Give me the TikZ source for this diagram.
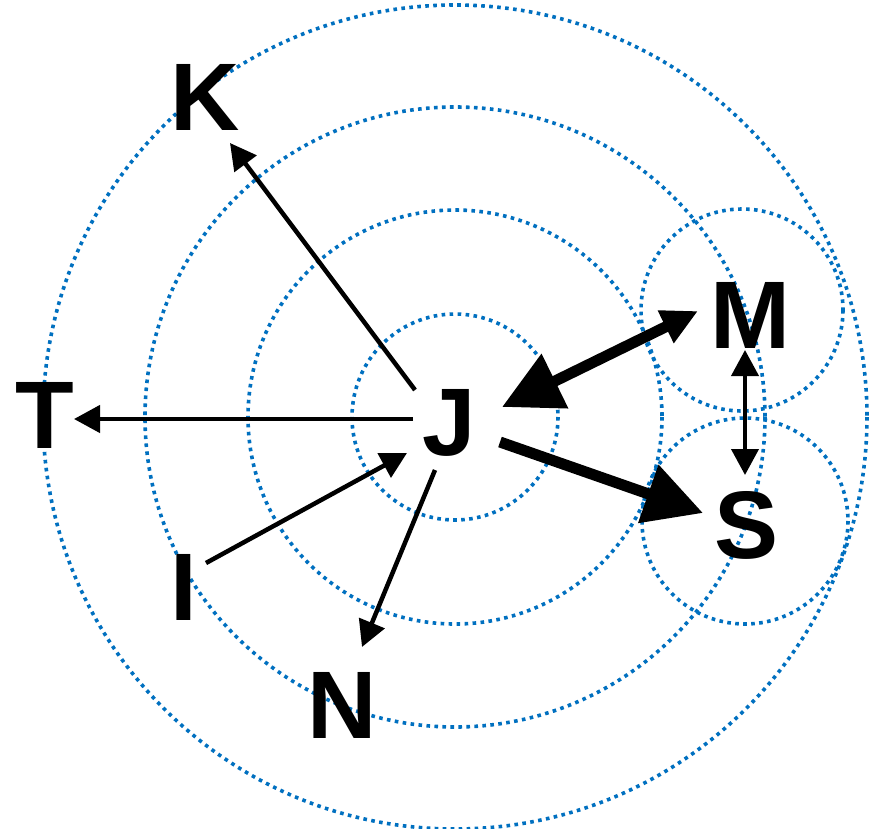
\documentclass[tikz,border=0pt]{standalone}
\usepackage{fontspec}
\setmainfont{Liberation Sans}
\usetikzlibrary{arrows.meta}
\definecolor{dotblue}{RGB}{0,112,192}
\tikzset{
  ring/.style={draw=dotblue, line width=3.6pt, dash pattern=on 3.6pt off 4.4pt},
  letter/.style={font=\fontsize{96}{96}\selectfont\bfseries, inner sep=0pt, anchor=base},
  thinarrow/.style={line width=4.5pt, -{Triangle[length=26pt,width=27pt]}},
  boldarrow/.style={line width=11pt},
}
\begin{document}
\begin{tikzpicture}[x=1pt,y=-1pt]
\useasboundingbox (0,0) rectangle (870,828);
\fill[white] (0,0) rectangle (870,828);
% concentric rings
\coordinate (c0) at (455,417);
\foreach \r in {103,207,310,412} \draw[ring] (c0) circle[radius=\r];
% letters
\node[letter] (K) at (205,130) {K};
\node[letter] (T) at (45,448) {T};
\node[letter] (J) at (449,455) {J};
\node[letter] (M) at (750,348) {M};
\node[letter] (S) at (747,558) {S};
\node[letter] (I) at (183.5,620) {I};
\node[letter] (N) at (342,738) {N};
% small rings
\draw[ring] (742,310) circle[radius=101];
\draw[ring] (745,521) circle[radius=103];
% endpoints
\coordinate (jk) at (415,390); \coordinate (kj) at (230,143);
\coordinate (jt) at (413,419); \coordinate (tj) at (74,419);
\coordinate (ij) at (206,563); \coordinate (ji) at (407,453);
\coordinate (jn) at (435,470); \coordinate (nj) at (362,647);
\coordinate (jm) at (502,407); \coordinate (mj) at (698,311);
\coordinate (js) at (500,442); \coordinate (sj) at (703,513);
\coordinate (ms) at (745,350); \coordinate (sm) at (745,475);
% arrows
\draw[thinarrow] (jk) -- (kj);
\draw[thinarrow] (jt) -- (tj);
\draw[thinarrow] (ij) -- (ji);
\draw[thinarrow] (jn) -- (nj);
\draw[boldarrow, {Triangle[length=59pt,width=58pt]}-{Triangle[length=36pt,width=34pt]}] (jm) -- (mj);
\draw[boldarrow, -{Triangle[length=58pt,width=59pt]}] (js) -- (sj);
\draw[line width=4pt, {Triangle[length=26pt,width=27pt]}-{Triangle[length=26pt,width=27pt]}] (ms) -- (sm);
\end{tikzpicture}
\end{document}
